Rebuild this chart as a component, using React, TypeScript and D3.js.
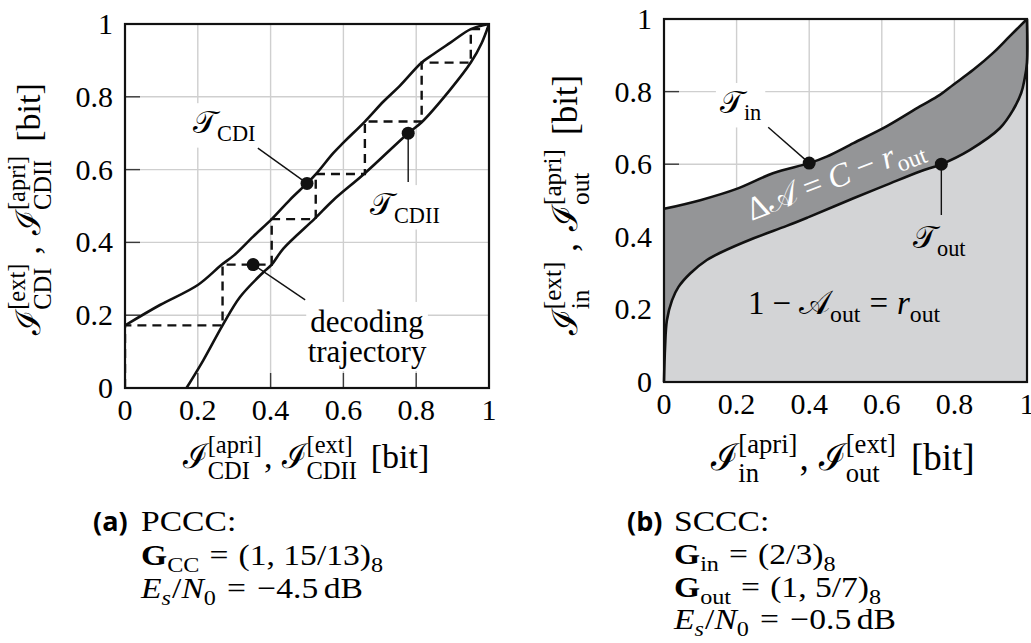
import React, { useEffect, useRef } from "react";
import * as d3 from "d3";

// ---------- data ----------
const tickValues = [0, 0.2, 0.4, 0.6, 0.8, 1];
const tickLabels = ["0", "0.2", "0.4", "0.6", "0.8", "1"];

// (a) PCCC – EXIT curves
const cdiX = [0, 0.096, 0.2, 0.266, 0.3, 0.352, 0.403, 0.453, 0.5, 0.525, 0.572, 0.6, 0.659, 0.71, 0.755, 0.815, 0.847, 0.893, 0.95, 1];
const cdiY = [0.172, 0.228, 0.283, 0.339, 0.365, 0.416, 0.464, 0.517, 0.562, 0.588, 0.645, 0.674, 0.732, 0.787, 0.83, 0.894, 0.917, 0.948, 0.986, 1];
const cdiiX = [0.169, 0.215, 0.268, 0.316, 0.38, 0.403, 0.435, 0.522, 0.572, 0.659, 0.778, 0.815, 0.893, 0.95, 0.98, 1];
const cdiiY = [0, 0.076, 0.172, 0.25, 0.318, 0.339, 0.383, 0.466, 0.516, 0.59, 0.7, 0.73, 0.819, 0.894, 0.948, 1];
const trajX = [0, 0, 0.268, 0.268, 0.403, 0.403, 0.524, 0.524, 0.659, 0.659, 0.815, 0.815, 0.95, 0.95, 1];
const trajY = [0, 0.172, 0.172, 0.339, 0.339, 0.464, 0.464, 0.588, 0.588, 0.732, 0.732, 0.894, 0.894, 0.986, 0.986];
const dotsAX = [0.5, 0.778, 0.352];
const dotsAY = [0.562, 0.7, 0.339];

// (b) SCCC – EXIT curves
const tinX = [0, 0.1, 0.2, 0.3, 0.4, 0.448, 0.522, 0.613, 0.705, 0.76, 0.797, 0.852, 0.906, 0.952, 1];
const tinY = [0.477, 0.501, 0.532, 0.575, 0.603, 0.621, 0.658, 0.704, 0.759, 0.791, 0.819, 0.86, 0.906, 0.952, 1];
const toutX = [0, 0.003, 0.008, 0.022, 0.04, 0.072, 0.118, 0.155, 0.247, 0.338, 0.4, 0.522, 0.613, 0.705, 0.764, 0.842, 0.925, 0.962, 0.984, 0.993, 1, 1];
const toutY = [0, 0.097, 0.17, 0.225, 0.262, 0.299, 0.336, 0.356, 0.396, 0.43, 0.455, 0.506, 0.543, 0.58, 0.6, 0.639, 0.699, 0.75, 0.796, 0.833, 0.88, 1];
const dotsBX = [0.4, 0.764];
const dotsBY = [0.603, 0.6];

const SERIF = "'Liberation Serif', 'DejaVu Serif', serif";
const SANS = "'Open Sans', 'DejaVu Sans', sans-serif";

type Atom = {
  t: string;
  sup?: string;
  sub?: string;
  it?: boolean;
  bold?: boolean;
  subIt?: boolean;
  font?: string;
  gap?: number;
};

function mathText(parent: any, atoms: Atom[], fs: number, opts: any = {}) {
  const fill = opts.fill || "#000";
  const sx = opts.sx || 1;
  const outer = parent.append("g");
  if (opts.transform) outer.attr("transform", opts.transform);
  const inner = outer.append("g");
  let x = 0;
  const mk = (s: string, xx: number, yy: number, size: number, it: boolean, bold: boolean, font: string) => {
    const t = inner
      .append("text")
      .attr("x", xx)
      .attr("y", yy)
      .attr("font-family", font)
      .attr("font-size", size)
      .attr("font-style", it ? "italic" : "normal")
      .attr("font-weight", bold ? 700 : 400)
      .attr("fill", fill)
      .style("white-space", "pre")
      .text(s);
    return (t.node() as SVGTextElement).getComputedTextLength();
  };
  for (const a of atoms) {
    x += mk(a.t, x, 0, fs, !!a.it, !!a.bold, a.font || SERIF);
    const ss = fs * 0.72;
    let w = 0;
    if (a.sup) w = Math.max(w, mk(a.sup, x, -fs * 0.45, ss, false, false, SERIF));
    if (a.sub) w = Math.max(w, mk(a.sub, x, a.sup ? fs * 0.33 : fs * 0.24, ss, !!a.subIt, false, SERIF));
    x += w + (a.gap || 0);
  }
  const anchor = opts.anchor || "start";
  const dx = anchor === "middle" ? -x / 2 : anchor === "end" ? -x : 0;
  inner.attr("transform", `translate(${dx * sx},0) scale(${sx},1)`);
  if (opts.bgLayer) {
    const bb = (inner.node() as SVGGElement).getBBox();
    opts.bgLayer
      .append("rect")
      .attr("transform", opts.transform || null)
      .attr("x", (bb.x + dx) * sx - 4)
      .attr("y", bb.y - 2)
      .attr("width", bb.width * sx + 8)
      .attr("height", bb.height + 4)
      .attr("fill", "#fff");
  }
  return outer;
}

const zip = (xs: number[], ys: number[]) => xs.map((x, i) => [x, ys[i]] as [number, number]);

export default function App() {
  const ref = useRef<SVGSVGElement>(null);

  useEffect(() => {
    const svg = d3.select(ref.current);
    svg.selectAll("*").remove();

    const gridColor = "#cfcfcf";
    const tickColor = "#3a3a3a";
    const TICK_FS = 30;
    const ANN_FS = 31;
    const CAP_FS = 30;
    const CAP_SX = 1.12;

    const drawGridTicks = (x: any, y: any) => {
      const g = svg.append("g");
      const [x0, x1] = x.range();
      const [y0, y1] = y.range(); // y0 bottom, y1 top
      tickValues.forEach((v) => {
        g.append("line").attr("x1", x(v)).attr("x2", x(v)).attr("y1", y0).attr("y2", y1).attr("stroke", gridColor).attr("stroke-width", 1.4);
        g.append("line").attr("x1", x0).attr("x2", x1).attr("y1", y(v)).attr("y2", y(v)).attr("stroke", gridColor).attr("stroke-width", 1.4);
      });
      tickValues.forEach((v) => {
        g.append("line").attr("x1", x0).attr("x2", x0 + 15).attr("y1", y(v)).attr("y2", y(v)).attr("stroke", tickColor).attr("stroke-width", 1.4);
        g.append("line").attr("x1", x(v)).attr("x2", x(v)).attr("y1", y0).attr("y2", y0 - 15).attr("stroke", tickColor).attr("stroke-width", 1.4);
      });
    };

    const drawTickLabels = (x: any, y: any) => {
      const [x0] = x.range();
      const [y0] = y.range();
      tickValues.forEach((v, i) => {
        svg.append("text").attr("x", x0 - 12).attr("y", y(v)).attr("dy", "0.33em").attr("text-anchor", "end")
          .attr("font-family", SERIF).attr("font-size", TICK_FS).text(tickLabels[i]);
        svg.append("text").attr("x", x(v)).attr("y", y0 + 32).attr("text-anchor", "middle")
          .attr("font-family", SERIF).attr("font-size", TICK_FS).text(tickLabels[i]);
      });
    };

    const frame = (x: any, y: any) => {
      const [x0, x1] = x.range();
      const [y0, y1] = y.range();
      svg.append("rect").attr("x", x0).attr("y", y1).attr("width", x1 - x0).attr("height", y0 - y1)
        .attr("fill", "none").attr("stroke", "#111").attr("stroke-width", 2.2);
    };

    const leader = (x1: number, y1: number, x2: number, y2: number) =>
      svg.append("line").attr("x1", x1).attr("y1", y1).attr("x2", x2).attr("y2", y2).attr("stroke", "#111").attr("stroke-width", 1.4);

    // ================= (a) PCCC =================
    const xA = d3.scaleLinear().domain([0, 1]).range([125, 489]);
    const yA = d3.scaleLinear().domain([0, 1]).range([388, 24]);
    drawGridTicks(xA, yA);

    const bgA = svg.append("g");
    mathText(svg, [{ t: "𝒯", sub: "CDI" }], ANN_FS, { bgLayer: bgA, transform: `translate(${xA(0.187)},${yA(0.7)})` });
    mathText(svg, [{ t: "𝒯", sub: "CDII" }], ANN_FS, { bgLayer: bgA, transform: `translate(${xA(0.673)},${yA(0.475)})` });
    mathText(svg, [{ t: "decoding" }], ANN_FS, { bgLayer: bgA, anchor: "middle", transform: `translate(${xA(0.665)},${yA(0.154)})` });
    mathText(svg, [{ t: "trajectory" }], ANN_FS, { bgLayer: bgA, anchor: "middle", transform: `translate(${xA(0.665)},${yA(0.071)})` });

    const lineA = d3.line<[number, number]>().x((d) => xA(d[0])).y((d) => yA(d[1])).curve(d3.curveCatmullRom.alpha(0.5));
    const clipA = svg.append("defs").append("clipPath").attr("id", "clipA");
    clipA.append("rect").attr("x", 125).attr("y", 24).attr("width", 364).attr("height", 364);
    const gA = svg.append("g").attr("clip-path", "url(#clipA)");

    const trajLine = d3.line<[number, number]>().x((d) => xA(d[0])).y((d) => yA(d[1]));
    gA.append("path").attr("d", trajLine(zip(trajX, trajY))).attr("fill", "none").attr("stroke", "#111")
      .attr("stroke-width", 2.4).attr("stroke-dasharray", "9,6");
    gA.append("path").attr("d", lineA(zip(cdiX, cdiY))).attr("fill", "none").attr("stroke", "#111").attr("stroke-width", 2.6);
    gA.append("path").attr("d", lineA(zip(cdiiX, cdiiY))).attr("fill", "none").attr("stroke", "#111").attr("stroke-width", 2.6);

    leader(xA(0.365), yA(0.659), xA(dotsAX[0]), yA(dotsAY[0]));
    leader(xA(dotsAX[1]), yA(dotsAY[1]), xA(dotsAX[1]), yA(0.566));
    leader(xA(dotsAX[2]), yA(dotsAY[2]), xA(0.495), yA(0.242));
    dotsAX.forEach((d, i) => {
      svg.append("circle").attr("cx", xA(d)).attr("cy", yA(dotsAY[i])).attr("r", 6.5).attr("fill", "#111");
    });
    frame(xA, yA);
    drawTickLabels(xA, yA);

    // axis labels (a)
    mathText(svg, [
      { t: "ℐ", sup: "[ext]", sub: "CDI", gap: 9 },
      { t: ",", gap: 11 },
      { t: "ℐ", sup: "[apri]", sub: "CDII", gap: 14 },
      { t: "[bit]" },
    ], 34, { anchor: "middle", transform: "translate(40,209) rotate(-90)" });
    mathText(svg, [
      { t: "ℐ", sup: "[apri]", sub: "CDI", gap: 2 },
      { t: ",", gap: 9 },
      { t: "ℐ", sup: "[ext]", sub: "CDII", gap: 14 },
      { t: "[bit]" },
    ], 34, { anchor: "middle", transform: "translate(306,468)" });

    // caption (a)
    svg.append("text").attr("x", 93).attr("y", 531).attr("font-family", SANS).attr("font-weight", 700).attr("font-size", 27).text("(a)");
    mathText(svg, [{ t: "PCCC:" }], CAP_FS, { sx: CAP_SX, transform: "translate(141,531)" });
    mathText(svg, [
      { t: "G", bold: true, sub: "CC", gap: 9 },
      { t: "=", gap: 9 },
      { t: "(1, 15/13)", sub: "8" },
    ], CAP_FS, { sx: CAP_SX, transform: "translate(141,565)" });
    mathText(svg, [
      { t: "E", it: true, sub: "s", subIt: true, gap: 1 },
      { t: "/" },
      { t: "N", it: true, sub: "0", gap: 10 },
      { t: "=", gap: 10 },
      { t: "−4.5", gap: 5 },
      { t: "dB" },
    ], CAP_FS, { sx: CAP_SX, transform: "translate(141,598)" });

    // ================= (b) SCCC =================
    const xB = d3.scaleLinear().domain([0, 1]).range([664, 1027]);
    const yB = d3.scaleLinear().domain([0, 1]).range([382, 19]);
    drawGridTicks(xB, yB);
    const bgB = svg.append("g");
    mathText(svg, [{ t: "𝒯", sub: "in" }], ANN_FS, { bgLayer: bgB, transform: `translate(${xB(0.154)},${yB(0.741)})` });

    const lineB = d3.line<[number, number]>().x((d) => xB(d[0])).y((d) => yB(d[1])).curve(d3.curveCatmullRom.alpha(0.5));
    const tinPts = zip(tinX, tinY);
    const toutPts = zip(toutX, toutY);
    const toutRev = toutPts.slice().reverse();
    const darkPath = (lineB(tinPts) as string) + "L" + (lineB(toutRev) as string).slice(1) + "Z";
    const lightPath = (lineB(toutPts) as string) + `L${xB(1)},${yB(0)}L${xB(0)},${yB(0)}Z`;
    svg.append("path").attr("d", darkPath).attr("fill", "#949597");
    svg.append("path").attr("d", lightPath).attr("fill", "#d3d4d6");
    svg.append("path").attr("d", lineB(tinPts)).attr("fill", "none").attr("stroke", "#111").attr("stroke-width", 2.6);
    svg.append("path").attr("d", lineB(toutPts)).attr("fill", "none").attr("stroke", "#111").attr("stroke-width", 2.6);

    leader(xB(0.287), yB(0.702), xB(dotsBX[0]), yB(dotsBY[0]));
    leader(xB(dotsBX[1]), yB(dotsBY[1]), xB(dotsBX[1]), yB(0.46));
    dotsBX.forEach((d, i) => {
      svg.append("circle").attr("cx", xB(d)).attr("cy", yB(dotsBY[i])).attr("r", 6.5).attr("fill", "#111");
    });
    frame(xB, yB);

    mathText(svg, [{ t: "𝒯", sub: "out" }], ANN_FS, { transform: `translate(${xB(0.686)},${yB(0.369)})` });
    mathText(svg, [
      { t: "Δ𝒜", gap: 8 },
      { t: "=", gap: 8 },
      { t: "C", it: true, gap: 8 },
      { t: "−", gap: 8 },
      { t: "r", it: true, sub: "out" },
    ], 33, { anchor: "middle", fill: "#fff", transform: `translate(${xB(0.481)},${yB(0.536)}) rotate(-21)` });
    mathText(svg, [
      { t: "1", gap: 8 },
      { t: "−", gap: 8 },
      { t: "𝒜", sub: "out", gap: 9 },
      { t: "=", gap: 9 },
      { t: "r", it: true, sub: "out" },
    ], 33, { anchor: "middle", transform: `translate(${xB(0.496)},${yB(0.187)})` });

    drawTickLabels(xB, yB);

    mathText(svg, [
      { t: "ℐ", sup: "[ext]", sub: "in", gap: 10 },
      { t: ",", gap: 12 },
      { t: "ℐ", sup: "[apri]", sub: "out", gap: 14 },
      { t: "[bit]" },
    ], 35, { anchor: "middle", transform: "translate(577,205) rotate(-90)" });
    mathText(svg, [
      { t: "ℐ", sup: "[apri]", sub: "in", gap: 2 },
      { t: ",", gap: 10 },
      { t: "ℐ", sup: "[ext]", sub: "out", gap: 15 },
      { t: "[bit]" },
    ], 37, { anchor: "middle", transform: "translate(843,470)" });

    // caption (b)
    svg.append("text").attr("x", 627).attr("y", 531).attr("font-family", SANS).attr("font-weight", 700).attr("font-size", 27).text("(b)");
    mathText(svg, [{ t: "SCCC:" }], CAP_FS, { sx: CAP_SX, transform: "translate(674,531)" });
    mathText(svg, [
      { t: "G", bold: true, sub: "in", gap: 9 },
      { t: "=", gap: 9 },
      { t: "(2/3)", sub: "8" },
    ], CAP_FS, { sx: CAP_SX, transform: "translate(674,564)" });
    mathText(svg, [
      { t: "G", bold: true, sub: "out", gap: 9 },
      { t: "=", gap: 9 },
      { t: "(1, 5/7)", sub: "8" },
    ], CAP_FS, { sx: CAP_SX, transform: "translate(674,597)" });
    mathText(svg, [
      { t: "E", it: true, sub: "s", subIt: true, gap: 1 },
      { t: "/" },
      { t: "N", it: true, sub: "0", gap: 10 },
      { t: "=", gap: 10 },
      { t: "−0.5", gap: 5 },
      { t: "dB" },
    ], CAP_FS, { sx: CAP_SX, transform: "translate(674,629)" });
  }, []);

  return (
    <svg
      ref={ref}
      width={1031}
      height={643}
      style={{ position: "absolute", left: 0, top: 0, background: "#fff" }}
    />
  );
}
